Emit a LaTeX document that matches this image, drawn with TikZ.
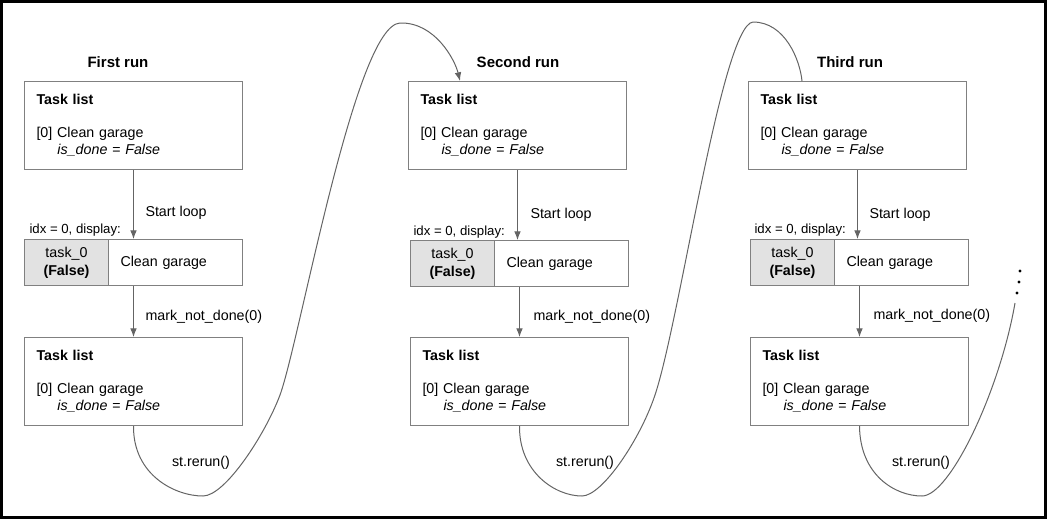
\documentclass[tikz,border=0pt]{standalone}
\usepackage{fontspec}
\setmainfont{Liberation Sans}
\usetikzlibrary{arrows.meta}

\tikzset{every picture/.style={line width=0.75pt}}
\tikzset{
  listbox/.style={draw={rgb, 255:red, 128; green, 128; blue, 128 }, anchor=north west, minimum height=66pt,
    text width=145.5pt, inner xsep=9pt, align=left, font=\fontsize{10.7}{12.75}\selectfont},
  flagcell/.style={draw={rgb, 255:red, 128; green, 128; blue, 128 }, fill={rgb, 255:red, 226; green, 226; blue, 226 },
    anchor=north west, minimum width=63pt, minimum height=34.5pt, inner sep=0pt, align=center,
    font=\fontsize{10.7}{13.5}\selectfont},
  namecell/.style={draw={rgb, 255:red, 128; green, 128; blue, 128 }, anchor=north west, minimum height=34.5pt,
    text width=82.5pt, inner xsep=9pt, align=left, font=\fontsize{10.7}{12}\selectfont},
  runtitle/.style={font=\fontsize{11.25}{13}\selectfont\bfseries},
  steplabel/.style={anchor=west, inner sep=0.75pt, font=\fontsize{10.7}{12}\selectfont},
  idxlabel/.style={anchor=west, inner sep=0.75pt, font=\fontsize{9.9}{11}\selectfont},
  flow/.style={draw={rgb, 255:red, 100; green, 100; blue, 100 }, -{Latex[length=6.5pt,width=5pt]}},
  rerunline/.style={draw={rgb, 255:red, 100; green, 100; blue, 100 }}
}
\newcommand{\tasklist}{\textbf{Task list}\\[12pt][0] Clean garage\\\hspace*{15.75pt}\textit{is\_done = False}}

\begin{document}
\begin{tikzpicture}[x=0.75pt,y=0.75pt,yscale=-1,xscale=1]
\useasboundingbox (0,0) rectangle (1047,519);

%Frame
\draw [line width=2.6pt] (1.75,1.75) rectangle (1045.25,517.25);

%First run
\node (title1) [runtitle] at (118,62) {First run};
\node (tlA1) [listbox] at (24,81) {\tasklist};
\node (idx1) [idxlabel] at (28,230) {idx = 0, display:};
\node (flag1) [flagcell] at (24,239) {\raisebox{-2pt}{\parbox{63pt}{\centering task\_0\\\textbf{(False)}}}};
\node (name1) [namecell] at (108,239) {\raisebox{-1.5pt}{Clean garage}};
\node (tlB1) [listbox] at (24,337) {\tasklist};
\node (start1) [steplabel] at (144,213) {Start loop};
\node (mark1) [steplabel] at (144,317) {mark\_not\_done(0)};
\node (rerun1) [steplabel, anchor=center] at (201,463) {st.rerun()};

%Second run
\node (title2) [runtitle] at (518,62) {Second run};
\node (tlA2) [listbox] at (408,81) {\tasklist};
\node (idx2) [idxlabel] at (412,232) {idx = 0, display:};
\node (flag2) [flagcell] at (410,240) {\raisebox{-2pt}{\parbox{63pt}{\centering task\_0\\\textbf{(False)}}}};
\node (name2) [namecell] at (494,240) {\raisebox{-1.5pt}{Clean garage}};
\node (tlB2) [listbox] at (410,337) {\tasklist};
\node (start2) [steplabel] at (529,215) {Start loop};
\node (mark2) [steplabel] at (532,317) {mark\_not\_done(0)};
\node (rerun2) [steplabel, anchor=center] at (585,463) {st.rerun()};

%Third run
\node (title3) [runtitle] at (850,62) {Third run};
\node (tlA3) [listbox] at (748,81) {\tasklist};
\node (idx3) [idxlabel] at (753,230) {idx = 0, display:};
\node (flag3) [flagcell] at (750,239) {\raisebox{-2pt}{\parbox{63pt}{\centering task\_0\\\textbf{(False)}}}};
\node (name3) [namecell] at (834,239) {\raisebox{-1.5pt}{Clean garage}};
\node (tlB3) [listbox] at (750,337) {\tasklist};
\node (start3) [steplabel] at (868,215) {Start loop};
\node (mark3) [steplabel] at (872,316) {mark\_not\_done(0)};
\node (rerun3) [steplabel, anchor=center] at (921,463) {st.rerun()};

%Straight arrows
\draw [flow] (tlA1.south) -- (tlA1.south |- name1.north);
\draw [flow] (tlB1.north |- name1.south) -- (tlB1.north);
\draw [flow] (tlA2.south) -- (tlA2.south |- name2.north);
\draw [flow] (tlB2.north |- name2.south) -- (tlB2.north);
\draw [flow] (tlA3.south) -- (tlA3.south |- name3.north);
\draw [flow] (tlB3.north |- name3.south) -- (tlB3.north);

%Rerun curves
\coordinate (hit2) at (460,81);
\coordinate (hit3) at (802,81);
\coordinate (more3) at (1015,303);
\draw [rerunline, flow] (tlB1.south) .. controls (133,475) and (175,496) .. (203,496) .. controls (225,496) and (265,435) .. (280,395) .. controls (300,340) and (355,25) .. (400,23) .. controls (435,22) and (455,60) .. (hit2);
\draw [rerunline] (tlB2.south) .. controls (519,472) and (555,496) .. (582,496) .. controls (602,496) and (640,440) .. (655,395) .. controls (680,320) and (722,25) .. (753,22) .. controls (785,22) and (800,60) .. (hit3);
\draw [rerunline] (tlB3.south) .. controls (860,475) and (895,496) .. (922,496) .. controls (950,496) and (1000,390) .. (more3);

%Dots
\fill (1020,271) circle (1.6);
\fill (1019,282) circle (1.6);
\fill (1017,293) circle (1.6);

\end{tikzpicture}
\end{document}
